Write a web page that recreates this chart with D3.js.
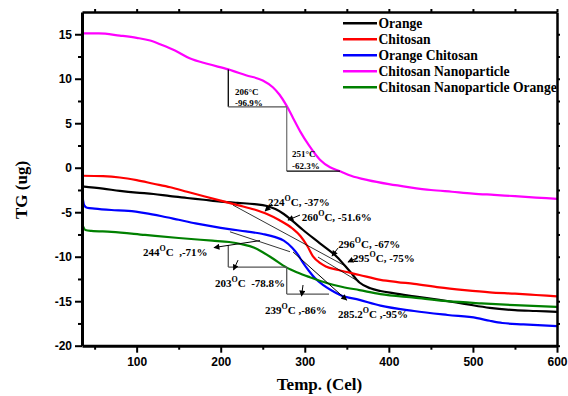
<!DOCTYPE html>
<html>
<head>
<meta charset="utf-8">
<script src="https://cdn.jsdelivr.net/npm/d3@7"></script>
<style>
  body { margin: 0; background: #fff; }
  svg { display: block; }
  .tick text { font-family: "Liberation Sans", Arial, sans-serif; font-weight: bold; font-size: 12px; fill: #000; }
  .serif { font-family: "Liberation Serif", "Times New Roman", serif; font-weight: bold; }
</style>
</head>
<body>
<svg id="chart" width="568" height="396"></svg>
<script>
// TG curves: [temperature (°C), TG (ug)]
const orange = [[35,-2.1],[60,-2.35],[80,-2.6],[100,-2.8],[120,-2.95],[140,-3.2],[160,-3.4],[180,-3.6],[200,-3.8],[220,-3.95],[240,-4.08],[255,-4.3],[265,-4.65],[275,-5.2],[285,-5.95],[298,-7.0],[318,-8.5],[338,-10.0],[354,-11.7],[365,-12.9],[378,-13.55],[390,-13.85],[405,-14.1],[430,-14.45],[460,-14.85],[490,-15.3],[520,-15.75],[550,-16.0],[575,-16.1],[600,-16.2]];
const chitosan = [[35,-0.9],[60,-0.95],[80,-1.1],[100,-1.4],[120,-1.8],[140,-2.2],[160,-2.7],[180,-3.2],[200,-3.7],[220,-4.2],[240,-4.7],[255,-5.2],[270,-5.9],[285,-6.8],[295,-7.7],[303,-8.8],[310,-10.0],[318,-10.7],[325,-11.1],[340,-11.5],[365,-12.05],[390,-12.6],[410,-12.85],[430,-13.05],[460,-13.45],[490,-13.75],[520,-14.0],[550,-14.15],[575,-14.3],[600,-14.45]];
const orangeChitosan = [[36,-3.5],[37.5,-4.2],[41,-4.5],[50,-4.6],[70,-4.75],[90,-4.85],[110,-5.1],[130,-5.45],[150,-5.85],[170,-6.25],[190,-6.6],[210,-6.9],[230,-7.15],[250,-7.45],[265,-7.8],[275,-8.2],[285,-9.0],[292,-9.8],[298,-10.7],[305,-11.6],[312,-12.4],[322,-13.2],[332,-13.8],[342,-14.3],[365,-14.85],[390,-15.5],[430,-16.1],[470,-16.55],[505,-16.9],[520,-17.2],[535,-17.45],[560,-17.6],[600,-17.8]];
const chitosanNano = [[35,15.1],[55,15.1],[80,14.85],[100,14.6],[116,14.3],[130,13.8],[145,13.2],[163,12.3],[185,11.65],[209,11.05],[230,10.4],[250,9.8],[262,9.05],[270,8.2],[278.5,6.95],[286,5.6],[295,4.0],[305,2.5],[318,0.9],[330,0.05],[342,-0.4],[355,-0.9],[375,-1.4],[400,-1.85],[425,-2.2],[450,-2.5],[475,-2.7],[500,-2.9],[525,-3.05],[550,-3.2],[575,-3.35],[600,-3.5]];
const chitosanNanoOrange = [[36,-6.5],[39,-7.0],[46,-7.1],[70,-7.2],[110,-7.55],[150,-7.9],[190,-8.2],[210,-8.35],[225,-8.6],[240,-9.0],[250,-9.5],[262,-10.2],[278,-11.2],[292,-11.8],[306,-12.3],[326,-12.95],[345,-13.4],[365,-13.75],[390,-14.2],[430,-14.6],[470,-15.0],[510,-15.25],[550,-15.45],[600,-15.65]];

const seriesNames = ["Orange", "Chitosan", "Orange Chitosan", "Chitosan Nanoparticle", "Chitosan Nanoparticle Orange"];
const seriesData = [orange, chitosan, orangeChitosan, chitosanNano, chitosanNanoOrange];
const seriesColors = ["#000000", "#ff0000", "#0000ff", "#ff00ff", "#008000"];

// axis ticks
const xMajor = [100, 200, 300, 400, 500, 600];
const xMinor = [50, 150, 250, 350, 450, 550];
const yMajor = [-20, -15, -10, -5, 0, 5, 10, 15];
const yMinor = [-17.5, -12.5, -7.5, -2.5, 2.5, 7.5, 12.5];

// step construction (onset / end temperatures)
const nanoSteps = [[[209,11.04],[209,6.84]], [[209,6.84],[278.5,6.84]], [[278.5,6.84],[278.5,-0.38]], [[278.5,-0.38],[341.9,-0.38]]];
const nanoOrangeSteps = [[[209,-8.69],[209,-11.16]], [[209,-11.16],[278.5,-11.16]], [[278.5,-11.16],[278.5,-14.2]], [[278.5,-14.2],[328.8,-14.2]]];
const nanoStepLabels = [[217,8.15,"206°C"],[217,6.95,"-96.9%"],[284.8,1.2,"251°C"],[284.8,-0.1,"-62.3%"]];

// tangents and pointers
const tangents = [[[214.6,-4.2],[349.9,-11.13]], [[211,-7.2],[282.4,-9.44]], [[315.7,-10.04],[360.9,-12.62]]];
const pointers = [[[261,-4.09],[252.7,-4.87]], [[294.3,-5.32],[280,-5.88]], [[339.5,-9.03],[332.4,-9.93]], [[362.1,-10.15],[351.4,-10.6]], [[246.7,-8.19],[192,-8.97]], [[220.6,-10.38],[215.2,-11.5]], [[297.9,-13.18],[296.1,-14.42]], [[286.1,-9.47],[349.9,-14.87]]];

// event labels: [T, TG, onset temperature, remainder]
const eventLabels = [
  [256.2, -4.31, "224", "C, -37%"],
  [296.3, -6.0, "260", "C, -51.6%"],
  [339.9, -9.03, "296", "C, -67%"],
  [357.4, -10.6, "295", "C, -75%"],
  [107.6, -9.93, "244", "C  ,-71%"],
  [193.2, -13.41, "203", "C  -78.8%"],
  [252.7, -16.44, "239", "C ,-86%"],
  [339.5, -16.89, "285.2", "C ,-95%"]
];

const svg = d3.select("#chart");
const plotLeft = 82, plotRight = 557, plotTop = 12, plotBottom = 345.7;
const x = d3.scaleLinear().domain([35, 600]).range([plotLeft, plotRight]);
const y = d3.scaleLinear().domain([-20, 17.5]).range([plotBottom, plotTop]);

svg.append("defs").append("marker")
  .attr("id", "head").attr("viewBox", "0 0 10 10").attr("refX", 9).attr("refY", 5)
  .attr("markerWidth", 7).attr("markerHeight", 6).attr("markerUnits", "userSpaceOnUse")
  .attr("orient", "auto")
  .append("path").attr("d", "M0,0 L10,5 L0,10 Z").attr("fill", "#000");

const line = d3.line().x(d => x(d[0])).y(d => y(d[1])).curve(d3.curveMonotoneX);
const seg = d3.line().x(d => x(d[0])).y(d => y(d[1]));

// curves
seriesData.forEach((s, i) => {
  svg.append("path").datum(s).attr("d", line)
    .attr("fill", "none").attr("stroke", seriesColors[i]).attr("stroke-width", 2.2);
});

// step constructions
const stepColors = ["#000", "#555", "#777", "#000"];
nanoSteps.forEach((s, i) => svg.append("path").attr("d", seg(s)).attr("stroke", stepColors[i]).attr("stroke-width", 1.3).attr("fill", "none"));
nanoOrangeSteps.forEach(s => svg.append("path").attr("d", seg(s)).attr("stroke", "#555").attr("stroke-width", 1.3).attr("fill", "none"));
svg.selectAll(".steplabel").data(nanoStepLabels).enter().append("text")
  .attr("class", "serif").attr("x", d => x(d[0])).attr("y", d => y(d[1]))
  .attr("font-size", 9).text(d => d[2]);

tangents.forEach(s => svg.append("path").attr("d", seg(s)).attr("stroke", "#000").attr("stroke-width", 0.8).attr("fill", "none"));
pointers.forEach(s => svg.append("path").attr("d", seg(s)).attr("stroke", "#000").attr("stroke-width", 1).attr("fill", "none").attr("marker-end", "url(#head)"));

eventLabels.forEach(d => {
  const t = svg.append("text").attr("class", "serif").attr("font-size", 11)
    .attr("x", x(d[0])).attr("y", y(d[1])).style("white-space", "pre");
  t.append("tspan").text(d[2]);
  t.append("tspan").attr("font-size", 8).attr("dy", -5).text("O");
  t.append("tspan").attr("dy", 5).text(d[3]);
});

// axes and frame
function styleAxis(g, w) {
  g.select(".domain").attr("stroke", "#000").attr("stroke-width", w);
  g.selectAll(".tick line").attr("stroke", "#000").attr("stroke-width", 2);
}
svg.append("g").attr("transform", `translate(0,${plotBottom})`)
  .call(d3.axisBottom(x).tickValues(xMajor).tickSize(7).tickSizeOuter(0).tickPadding(5).tickFormat(d => String(d)))
  .call(g => styleAxis(g, 3));
svg.append("g").attr("transform", `translate(0,${plotBottom})`)
  .call(d3.axisBottom(x).tickValues(xMinor).tickSize(4).tickSizeOuter(0).tickFormat(""))
  .call(g => { g.select(".domain").remove(); g.selectAll(".tick line").attr("stroke-width", 2); });
svg.append("g").attr("transform", `translate(${plotLeft},0)`)
  .call(d3.axisLeft(y).tickValues(yMajor).tickSize(7).tickSizeOuter(0).tickPadding(3).tickFormat(d => String(d)))
  .call(g => styleAxis(g, 3));
svg.append("g").attr("transform", `translate(${plotLeft},0)`)
  .call(d3.axisLeft(y).tickValues(yMinor).tickSize(4).tickSizeOuter(0).tickFormat(""))
  .call(g => { g.select(".domain").remove(); g.selectAll(".tick line").attr("stroke-width", 2); });
svg.append("g").attr("transform", `translate(0,${plotTop})`)
  .call(d3.axisTop(x).tickValues(xMinor.concat(xMajor)).tickSize(3).tickSizeOuter(0).tickFormat(""))
  .call(g => styleAxis(g, 2.5));
svg.append("g").attr("transform", `translate(${plotRight},0)`)
  .call(d3.axisRight(y).tickValues(yMinor.concat(yMajor)).tickSize(3).tickSizeOuter(0).tickFormat(""))
  .call(g => styleAxis(g, 2.5));

// axis titles
svg.append("text").attr("class", "serif").attr("font-size", 17)
  .attr("x", (plotLeft + plotRight) / 2).attr("y", 390).attr("text-anchor", "middle").text("Temp. (Cel)");
svg.append("text").attr("class", "serif").attr("font-size", 17)
  .attr("transform", "translate(27,190) rotate(-90)").attr("text-anchor", "middle").text("TG (ug)");

// legend
const legend = svg.append("g").attr("transform", "translate(343,23.3)");
seriesNames.forEach((n, i) => {
  const g = legend.append("g").attr("transform", `translate(0,${i * 16})`);
  g.append("line").attr("x1", 0).attr("x2", 34).attr("stroke", seriesColors[i]).attr("stroke-width", 2.5);
  g.append("text").attr("class", "serif").attr("font-size", 13.6).attr("x", 35.5).attr("y", 5).text(n);
});
</script>
</body>
</html>
